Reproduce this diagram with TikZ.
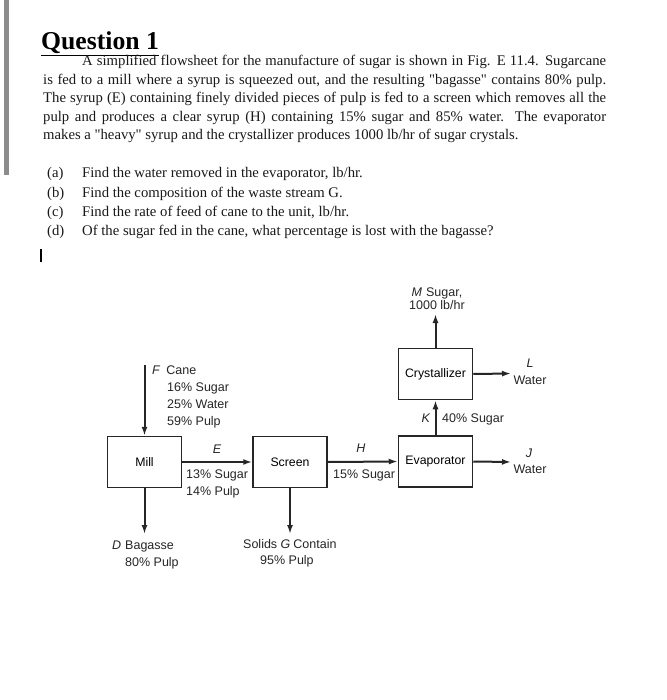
\documentclass[tikz,border=0pt]{standalone}
\usepackage{fontspec}
\setmainfont{Liberation Serif}
\newfontfamily\diafont{Liberation Sans}
\usetikzlibrary{arrows.meta}
\newcommand{\sq}{\XeTeXglyph\XeTeXcharglyph"22\relax}
\begin{document}
\begin{tikzpicture}[x=1pt,y=-1pt,
  unit/.style={draw=black!85, line width=1.5pt, minimum width=74pt, minimum height=51pt,
     font=\diafont\fontsize{12.3}{14}\selectfont, inner sep=0pt},
  flow/.style={draw=black!85, line width=2pt, -{Latex[length=9pt,width=6pt]}},
  lbl/.style={font=\diafont\fontsize{12.5}{14}\selectfont, inner sep=0pt, text=black!85},
  body/.style={font=\fontsize{14.7}{18.5}\selectfont, inner sep=0pt, text=black!90}
]
\useasboundingbox (0,0) rectangle (666,700);
\fill[white] (0,0) rectangle (666,700);
% left bar
\fill[black!45] (4,0) rectangle (9,175);
% heading
\node[anchor=base west, inner sep=0pt, font=\bfseries\fontsize{25.7}{28}\selectfont] (title) at (41,50) {\underline{Question 1}};
\node[body, anchor=base west, text width=563pt, align=justify] (para) at (43,66)
 {\hspace*{39pt}A simplified flowsheet for the manufacture of sugar is shown in Fig. E 11.4. Sugarcane\linebreak
 is fed to a mill where a syrup is squeezed out, and the resulting \sq bagasse\sq{} contains 80\% pulp.\linebreak
 The syrup (E) containing finely divided pieces of pulp is fed to a screen which removes all the\linebreak
 pulp and produces a clear syrup (H) containing 15\% sugar and 85\% water. The evaporator\linebreak
 makes a \sq heavy\sq{} syrup and the crystallizer produces 1000 lb/hr of sugar crystals.};
% questions
\node[body, anchor=base west] (qa) at (47,178) {(a)};
\node[body, anchor=base west] (ta) at (82,178) {Find the water removed in the evaporator, lb/hr.};
\node[body, anchor=base west] (qb) at (47,198) {(b)};
\node[body, anchor=base west] (tb) at (82,198) {Find the composition of the waste stream G.};
\node[body, anchor=base west] (qc) at (47,217) {(c)};
\node[body, anchor=base west] (tc) at (82,217) {Find the rate of feed of cane to the unit, lb/hr.};
\node[body, anchor=base west] (qd) at (47,236) {(d)};
\node[body, anchor=base west] (td) at (82,236) {Of the sugar fed in the cane, what percentage is lost with the bagasse?};
% cursor
\draw[line width=1.1pt] (41,249) -- (41,262);

% units
\node[unit] (mill) at (144.5,462) {Mill};
\node[unit] (screen) at (290,462) {Screen};
\node[unit] (evap) at (435.5,461.5) {Evaporator};
\node[unit] (cryst) at (435.5,374) {Crystallizer};

\coordinate (fin) at (144.5,365);
\coordinate (dout) at (144.5,534);
\coordinate (gout) at (290,534);
\coordinate (jout) at (511,462);
\coordinate (lout) at (511,373.5);
\coordinate (mout) at (435.5,314);

\draw[flow] (fin) -- (mill.north);
\draw[flow] (mill.south) -- (dout);
\draw[flow] (mill.east) -- (screen.west);
\draw[flow] (screen.south) -- (gout);
\draw[flow] (screen.east) -- (evap.west);
\draw[flow] (evap.north) -- (cryst.south);
\draw[flow] (evap.east) -- (jout);
\draw[flow] (cryst.east) -- (lout);
\draw[flow] (cryst.north) -- (mout);

% labels
\node[lbl, anchor=base west] (lf) at (152,374) {\textit{F}\hspace{6pt}Cane};
\node[lbl, anchor=base west] (lf1) at (167,391) {16\% Sugar};
\node[lbl, anchor=base west] (lf2) at (167,408) {25\% Water};
\node[lbl, anchor=base west] (lf3) at (167,425) {59\% Pulp};

\node[lbl, anchor=base] (le) at (217,453) {\textit{E}};
\node[lbl, anchor=base west] (le1) at (186,478) {13\% Sugar};
\node[lbl, anchor=base west] (le2) at (186,495) {14\% Pulp};

\node[lbl, anchor=base] (lh) at (361,452) {\textit{H}};
\node[lbl, anchor=base west] (lh1) at (333,478) {15\% Sugar};

\node[lbl, anchor=base] (lk) at (426,422) {\textit{K}};
\node[lbl, anchor=base west] (lk1) at (442,422) {40\% Sugar};

\node[lbl, anchor=base] (lm) at (437,296) {\textit{M}\hspace{4pt}Sugar,};
\node[lbl, anchor=base] (lm1) at (437,309) {1000 lb/hr};

\node[lbl, anchor=base] (ll) at (530,367) {\textit{L}};
\node[lbl, anchor=base] (ll1) at (530,384) {Water};
\node[lbl, anchor=base] (lj) at (529,457) {\textit{J}};
\node[lbl, anchor=base] (lj1) at (530,473) {Water};

\node[lbl, anchor=base west] (ld) at (112,549) {\textit{D}\hspace{4pt}Bagasse};
\node[lbl, anchor=base west] (ld1) at (125,566) {80\% Pulp};
\node[lbl, anchor=base west] (lg) at (243,548) {Solids \textit{G}\hspace{3pt}Contain};
\node[lbl, anchor=base west] (lg1) at (260,564) {95\% Pulp};
\end{tikzpicture}
\end{document}
